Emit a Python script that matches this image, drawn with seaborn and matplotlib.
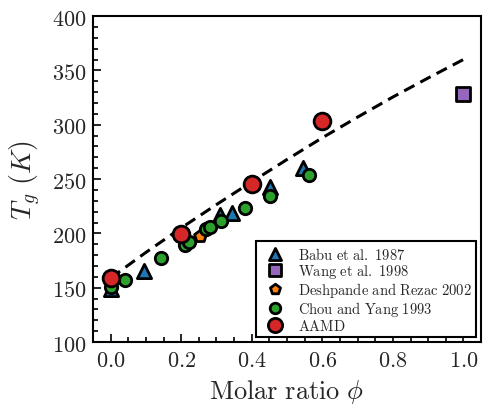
import numpy as np
import pandas as pd
import matplotlib
matplotlib.use("Agg")
import matplotlib.pyplot as plt
import seaborn as sns
from matplotlib.ticker import MultipleLocator, FuncFormatter

# Glass transition temperature vs molar ratio
babu_phi = [0.0, 0.094, 0.31, 0.345, 0.453, 0.546]
babu_tg = [149, 165, 217, 219, 243, 260]

wang_phi = [1.0]
wang_tg = [328]

desh_phi = [0.252]
desh_tg = [198]

chou_phi = [0.0, 0.042, 0.142, 0.212, 0.221, 0.271, 0.283, 0.314, 0.38, 0.453, 0.561]
chou_tg = [151, 157.5, 177.5, 189.5, 192, 204, 206, 211, 223.5, 234, 253.5]

aamd_phi = [0.0, 0.2, 0.4, 0.6]
aamd_tg = [159, 199.7, 245.8, 303.4]

fit_phi = [0.0, 0.1, 0.2, 0.3, 0.4, 0.5, 0.6, 0.7, 0.8, 0.9, 1.0]
fit_tg = [159, 182.5, 205, 226.5, 247.5, 268, 288, 307, 325.5, 343, 360]

series_labels = ["Babu et al. 1987", "Wang et al. 1998", "Deshpande and Rezac 2002",
                 "Chou and Yang 1993", "AAMD"]


def roman(text):
    """Typeset plain text in Computer Modern roman via mathtext."""
    return r"$\mathrm{" + text.replace(" ", r"\ ") + "}$"


sns.set_style("ticks")
plt.rcParams["font.family"] = ["serif"]
plt.rcParams["mathtext.fontset"] = "cm"

fig = plt.figure(figsize=(4.83, 4.06), dpi=100)
ax = fig.add_axes([0.1925, 0.155, 0.8035, 0.803])

sns.lineplot(x=fit_phi, y=fit_tg, ax=ax, color="black", lw=2.2,
             linestyle=(0, (3.8, 2.2)), zorder=2)

ec = "black"
lw = 2.0
sns.scatterplot(x=babu_phi, y=babu_tg, ax=ax, marker="^", s=105, color="#1f77b4",
                edgecolor=ec, linewidth=lw, label=roman(series_labels[0]), zorder=3)
sns.scatterplot(x=wang_phi, y=wang_tg, ax=ax, marker="s", s=90, color="#9467bd",
                edgecolor=ec, linewidth=lw, label=roman(series_labels[1]), zorder=3)
sns.scatterplot(x=desh_phi, y=desh_tg, ax=ax, marker="p", s=80, color="#ff7f0e",
                edgecolor=ec, linewidth=lw, label=roman(series_labels[2]), zorder=3)
sns.scatterplot(x=chou_phi, y=chou_tg, ax=ax, marker="o", s=80, color="#2ca02c",
                edgecolor=ec, linewidth=lw, label=roman(series_labels[3]), zorder=4)
sns.scatterplot(x=aamd_phi, y=aamd_tg, ax=ax, marker="o", s=145, color="#d62728",
                edgecolor=ec, linewidth=lw, label=roman(series_labels[4]), zorder=5)

ax.set_xlim(-0.05, 1.05)
ax.set_ylim(100, 400)
ax.xaxis.set_major_locator(MultipleLocator(0.2))
ax.xaxis.set_minor_locator(MultipleLocator(0.05))
ax.yaxis.set_major_locator(MultipleLocator(50))
ax.yaxis.set_minor_locator(MultipleLocator(10))
ax.xaxis.set_major_formatter(FuncFormatter(lambda v, p: r"$%.1f$" % v))
ax.yaxis.set_major_formatter(FuncFormatter(lambda v, p: r"$%d$" % round(v)))

for s in ax.spines.values():
    s.set_linewidth(1.5)
    s.set_color("black")
ax.tick_params(which="both", direction="in", top=False, right=False,
               labelsize=16, pad=5, width=1.2, color="black")
ax.tick_params(which="major", length=6)
ax.tick_params(which="minor", length=3.5)

ax.set_xlabel(r"$\mathrm{Molar\ ratio}\ \phi$", fontsize=19, labelpad=4)
ax.set_ylabel(r"$T_g\ (K)$", fontsize=20, labelpad=6)

leg = ax.legend(loc="lower right", fontsize=10.5, frameon=True, fancybox=False,
                edgecolor="black", borderpad=0.3, handletextpad=0.6,
                labelspacing=0.0, borderaxespad=0.35, markerscale=0.85,
                handleheight=1.0)
leg.get_frame().set_linewidth(1.5)
leg.get_frame().set_alpha(1)

fig.savefig("out.png", dpi=100)
